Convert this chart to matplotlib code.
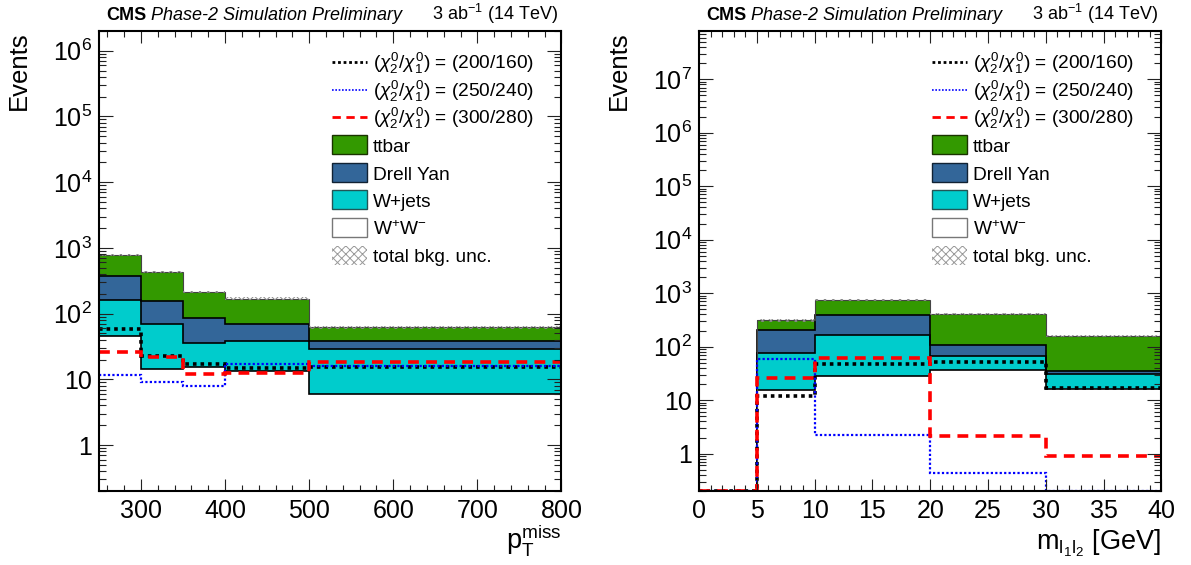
import numpy as np
import matplotlib
matplotlib.use('Agg')
import matplotlib.pyplot as plt
from matplotlib.ticker import LogLocator, MultipleLocator, FuncFormatter, NullFormatter
from matplotlib.patches import Rectangle
from matplotlib.lines import Line2D

plt.rcParams['font.family'] = ['Liberation Sans', 'DejaVu Sans']
plt.rcParams['mathtext.fontset'] = 'custom'
plt.rcParams['mathtext.rm'] = 'Liberation Sans'
plt.rcParams['mathtext.it'] = 'Liberation Sans:italic'
plt.rcParams['mathtext.bf'] = 'Liberation Sans:bold'
plt.rcParams['hatch.linewidth'] = 0.7

# ---- p_T^miss distribution (left) ----
met_edges = [250, 300, 350, 400, 500, 800]
met_ww = [46, 14.6, 15.5, 13.5, 6.0]
met_wjets = [115, 55.2, 20, 25, 22.8]
met_dy = [213, 84.2, 49.5, 30.5, 9.7]
met_ttbar = [406, 276, 129, 100, 23]
met_unc = [0.05, 0.05, 0.05, 0.05, 0.05]
met_sig_200_160 = [59, 22.5, 17.0, 14.7, 15.3]
met_sig_250_240 = [11.7, 9.2, 8.0, 17, 16]
met_sig_300_280 = [26.2, 21.7, 12.0, 12.3, 18.5]

# ---- m_l1l2 distribution (right) ----
mll_edges = [0, 5, 10, 20, 30, 40]
mll_ww = [0, 15.4, 28.2, 36.5, 16.3]
mll_wjets = [0, 59.6, 135.8, 30.5, 14.0]
mll_dy = [0, 128, 224, 41, 4.7]
mll_ttbar = [0, 106, 364, 297, 124]
mll_unc = [0.05, 0.05, 0.05, 0.05, 0.05]
mll_sig_200_160 = [0, 11.9, 48, 51.6, 16.5]
mll_sig_250_240 = [0, 60, 2.27, 0.44, 0]
mll_sig_300_280 = [0, 25.9, 61, 2.11, 0.90]

sig_labels = [r'$(\chi^{0}_{2}/\chi^{0}_{1})$ = (200/160)',
              r'$(\chi^{0}_{2}/\chi^{0}_{1})$ = (250/240)',
              r'$(\chi^{0}_{2}/\chi^{0}_{1})$ = (300/280)']
bkg_labels = ['ttbar', 'Drell Yan', 'W+jets', r'W$^{+}$W$^{-}$']

C_TT = '#339900'
C_DY = '#336699'
C_WJ = '#00cccc'
C_WW = '#ffffff'
sig_styles = [dict(color='black', ls=(0, (1, 1.1)), lw=2.6),
              dict(color='#0000ff', ls=(0, (1, 1)), lw=1.6),
              dict(color='#ff0000', ls=(0, (3, 2)), lw=2.6)]
leg_styles = [dict(color='black', ls=(0, (1, 1)), lw=2.0),
              dict(color='#0000ff', ls=(0, (1, 1)), lw=1.2),
              dict(color='#ff0000', ls=(0, (3, 2)), lw=2.0)]


def log_fmt(v, pos):
    if np.isclose(v, 1):
        return '1'
    if np.isclose(v, 10):
        return '10'
    return r'$10^{%d}$' % round(np.log10(v))


def draw_legend(ax):
    x0, w = 0.503, 0.076
    xt = 0.592
    y0, dy = 0.9326, 0.06
    ph = 0.0413
    entries = []
    for st, lab in zip(leg_styles, sig_labels):
        entries.append(('line', st, lab))
    entries.append(('box', dict(fc=C_TT, ec='#1a3300', hatch=None), bkg_labels[0]))
    entries.append(('box', dict(fc=C_DY, ec='#112233', hatch=None), bkg_labels[1]))
    entries.append(('box', dict(fc=C_WJ, ec='#225555', hatch=None), bkg_labels[2]))
    entries.append(('box', dict(fc=C_WW, ec='#777777', hatch=None), bkg_labels[3]))
    entries.append(('box', dict(fc='white', ec='#999999', hatch='xxxx'), 'total bkg. unc.'))
    for i, (kind, st, lab) in enumerate(entries):
        y = y0 - i * dy
        if kind == 'line':
            ax.add_line(Line2D([x0, x0 + w], [y, y], transform=ax.transAxes,
                               clip_on=False, **st))
        else:
            lw = 0 if st['hatch'] else 1.0
            ax.add_patch(Rectangle((x0, y - ph / 2), w, ph, transform=ax.transAxes,
                                   facecolor=st['fc'], edgecolor=st['ec'],
                                   hatch=st['hatch'], lw=lw, clip_on=False))
        ax.text(xt, y - 0.0155, lab, transform=ax.transAxes, fontsize=13.8,
                va='baseline', ha='left')


def draw_panel(ax, edges, ww, wjets, dy, ttbar, unc, sigs, ylim, xlabel, xlab_y):
    edges = np.array(edges, dtype=float)
    layers = [(ww, C_WW), (wjets, C_WJ), (dy, C_DY), (ttbar, C_TT)]
    lower = np.zeros(len(edges) - 1)
    tops = []
    for vals, fc in layers:
        upper = lower + np.array(vals, dtype=float)
        ax.stairs(upper, edges, baseline=lower, fill=True, facecolor=fc,
                  edgecolor='none', lw=0)
        tops.append(upper)
        lower = upper
    for k, upper in enumerate(tops):
        if k == len(tops) - 1:
            ax.stairs(upper, edges, baseline=None, color='#444444', lw=0.8)
        else:
            ax.stairs(upper, edges, baseline=None, color='black', lw=1.2)
    total = tops[-1]
    u = np.array(unc)
    ax.stairs(total * (1 + u), edges, baseline=total * (1 - u), fill=True,
              facecolor='none', edgecolor='#888888', hatch='xxxx', lw=0)
    for vals, st in zip(sigs, sig_styles):
        ax.stairs(np.maximum(np.array(vals, dtype=float), ylim[0]), edges,
                  baseline=None, **st)

    ax.set_yscale('log')
    ax.set_xlim(edges[0], edges[-1])
    ax.set_ylim(*ylim)
    kmin = int(np.ceil(np.log10(ylim[0])))
    kmax = int(np.floor(np.log10(ylim[1])))
    ax.set_yticks([10.0 ** k for k in range(kmin, kmax + 1)])
    ax.yaxis.set_minor_locator(LogLocator(base=10, subs=np.arange(2, 10), numticks=20))
    ax.yaxis.set_major_formatter(FuncFormatter(log_fmt))
    ax.yaxis.set_minor_formatter(NullFormatter())
    ax.tick_params(which='both', direction='in', top=True, right=True,
                   labelsize=18, width=0.8, color='#222222')
    ax.tick_params(axis='y', which='major', length=10, pad=5)
    ax.tick_params(axis='y', which='minor', length=5)
    ax.tick_params(axis='x', which='major', length=8.5, pad=6)
    ax.tick_params(axis='x', which='minor', length=4.5)
    for sp in ax.spines.values():
        sp.set_linewidth(1.5)

    ax.set_ylabel('Events', fontsize=18.5, loc='top')
    ax.yaxis.set_label_coords(-0.148, 1.0)
    ax.set_xlabel(xlabel, fontsize=19.5, loc='right')
    ax.xaxis.set_label_coords(1.0, xlab_y)

    cms = ax.text(0.015, 1.024, 'CMS', transform=ax.transAxes, fontsize=13,
                  fontweight='bold', va='baseline', ha='left')
    ax.annotate('Phase-2 Simulation Preliminary', xy=(1, 0), xycoords=cms,
                xytext=(5, 0), textcoords='offset pixels', fontsize=13,
                style='italic', va='bottom', ha='left')
    ax.text(0.9925, 1.024, r'3 ab$^{-1}$ (14 TeV)', transform=ax.transAxes,
            fontsize=13, va='baseline', ha='right')
    draw_legend(ax)


fig = plt.figure(figsize=(11.91, 5.65), dpi=100)
ax1 = fig.add_axes([0.0831, 0.1310, 0.3883, 0.8142])
ax2 = fig.add_axes([0.5869, 0.1310, 0.3883, 0.8142])

draw_panel(ax1, met_edges, met_ww, met_wjets, met_dy, met_ttbar, met_unc,
           [met_sig_200_160, met_sig_250_240, met_sig_300_280], (0.2, 2e6),
           r'p$_{\mathrm{T}}^{\mathrm{miss}}$', -0.068)
ax1.xaxis.set_major_locator(MultipleLocator(100))
ax1.xaxis.set_minor_locator(MultipleLocator(20))

draw_panel(ax2, mll_edges, mll_ww, mll_wjets, mll_dy, mll_ttbar, mll_unc,
           [mll_sig_200_160, mll_sig_250_240, mll_sig_300_280], (0.2, 8e7),
           r'm$_{\mathrm{l}_{1}\mathrm{l}_{2}}$ [GeV]', -0.08)
ax2.xaxis.set_major_locator(MultipleLocator(5))
ax2.xaxis.set_minor_locator(MultipleLocator(1))

fig.savefig('out.png', dpi=100)
